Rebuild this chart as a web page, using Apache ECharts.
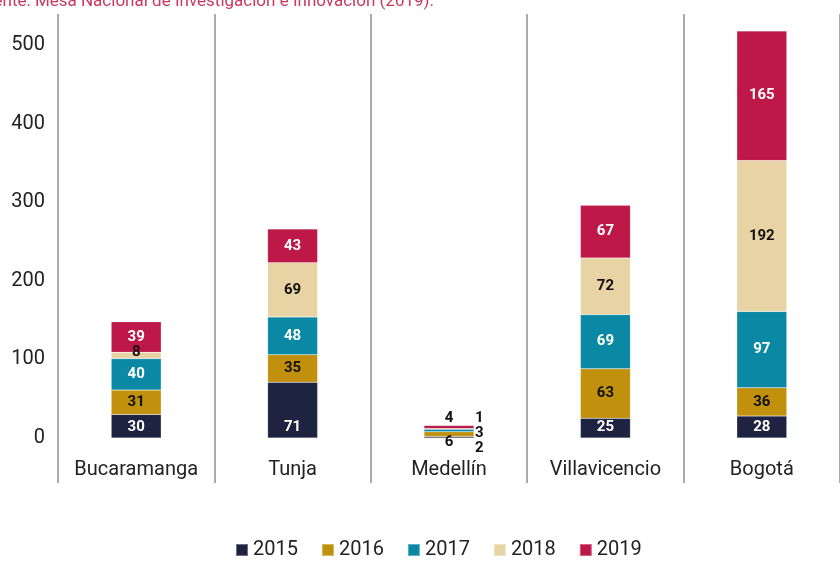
<!DOCTYPE html>
<html><head><meta charset="utf-8">
<script src="https://cdn.jsdelivr.net/npm/echarts@6/dist/echarts.min.js"></script>
<style>html,body{margin:0;padding:0;background:#fff}#c{width:840px;height:561px}</style>
</head><body><div id="c"></div>
<script>
const categories = ['Bucaramanga', 'Tunja', 'Medellín', 'Villavicencio', 'Bogotá'];
const years = ['2015', '2016', '2017', '2018', '2019'];
const v2015 = [30, 71, 2, 25, 28];
const v2016 = [31, 35, 6, 63, 36];
const v2017 = [40, 48, 3, 69, 97];
const v2018 = [8, 69, 1, 72, 192];
const v2019 = [39, 43, 4, 67, 165];
const yTicks = [0, 100, 200, 300, 400, 500];
const sourceText = 'Fuente: Mesa Nacional de Investigación e Innovación (2019).';

const values = [v2015, v2016, v2017, v2018, v2019];
const colors = ['#1e2342', '#c1900c', '#0b88a4', '#e8d3a5', '#bd1847'];
const labelColors = ['#fff', '#111', '#fff', '#111', '#fff'];
const FONT = 'Roboto';

// special label placement for the tiny Medellín stack (index 2)
const medLabel = [
  {position: 'right', distance: 1, offset: [0, 11], color: '#111'},
  {position: 'bottom', distance: -2, color: '#111'},
  {position: 'right', distance: 1, offset: [0, 3], color: '#111'},
  {position: 'right', distance: 1, offset: [0, -11], color: '#111'},
  {position: 'top', distance: 0, color: '#111'}
];

const series = years.map((y, si) => ({
  name: y,
  type: 'bar',
  stack: 'total',
  barWidth: 50,
  xAxisIndex: 0, yAxisIndex: 0,
  itemStyle: {color: colors[si], borderColor: 'rgba(255,255,255,0.35)', borderWidth: 0.5},
  label: {
    show: true,
    position: si === 0 ? 'insideBottom' : 'inside',
    distance: 3,
    color: labelColors[si],
    fontFamily: FONT, fontWeight: 'bold', fontSize: 15
  },
  data: values[si].map((v, ci) => {
    if (ci === 2) return {value: v, label: medLabel[si]};
    if (ci === 0 && si === 3) return {value: v, label: {offset: [0, -3]}};
    return v;
  })
}));

const chart = echarts.init(document.getElementById('c'), null, {renderer: 'canvas'});
chart.setOption({
  animation: false,
  title: {
    text: sourceText, left: -30, top: -12,
    textStyle: {color: '#c73a5e', fontFamily: FONT, fontWeight: 'normal', fontSize: 17}
  },
  legend: {
    data: years, bottom: -4, left: 230,
    itemWidth: 12, itemHeight: 12, itemGap: 23,
    icon: 'rect',
    textStyle: {color: '#222', fontFamily: FONT, fontSize: 20}
  },
  grid: [
    {left: 58, width: 787.5, top: 13.6, height: 424.4},
    {left: 58, width: 787.5, top: 14, height: 469}
  ],
  xAxis: [
    {type: 'category', gridIndex: 0, data: categories,
     axisLine: {show: false}, axisTick: {show: false},
     axisLabel: {color: '#222', fontFamily: FONT, fontSize: 20, margin: 22, interval: 0}},
    {type: 'category', gridIndex: 1, data: categories,
     axisLine: {show: false}, axisTick: {show: false}, axisLabel: {show: false},
     splitLine: {show: true, interval: 0, lineStyle: {color: '#aaaaaa', width: 2}}}
  ],
  yAxis: [
    {type: 'value', gridIndex: 0, min: yTicks[0], max: 540, interval: 100,
     axisLine: {show: false}, axisTick: {show: false}, splitLine: {show: false},
     axisLabel: {color: '#222', fontFamily: FONT, fontSize: 20, margin: 13, showMaxLabel: false}},
    {type: 'value', gridIndex: 1, show: false, min: 0, max: 1}
  ],
  series: series
});
</script></body></html>
